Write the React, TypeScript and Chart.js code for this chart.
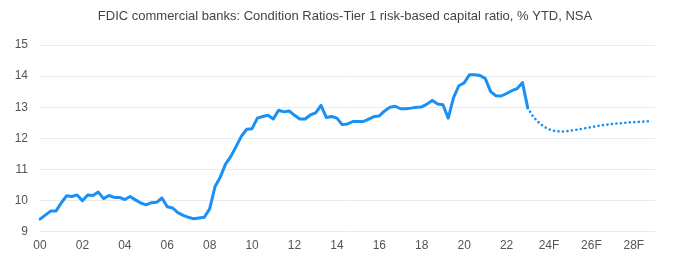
import React, { useEffect, useRef } from "react";
import { Chart, registerables } from "chart.js";

Chart.register(...registerables);

const TITLE = "FDIC commercial banks: Condition Ratios-Tier 1 risk-based capital ratio, % YTD, NSA";

// Quarterly categories 2000Q1 .. 2029Q1
const START_YEAR = 2000;
const END_YEAR = 2029;
const quarterLabels: string[] = [];
for (let y = START_YEAR; y <= END_YEAR; y++) {
  for (let q = 1; q <= 4; q++) {
    if (y === END_YEAR && q > 1) break;
    quarterLabels.push(`${y}Q${q}`);
  }
}

// Tick labels shown every 2 years (every 8 quarters)
const tickLabels = ["00", "02", "04", "06", "08", "10", "12", "14", "16", "18", "20", "22", "24F", "26F", "28F"];

// Actual values 2000Q1 .. 2023Q1
const actual = [
  9.40, 9.53, 9.66, 9.66,
  9.92, 10.15, 10.13, 10.18,
  9.99, 10.18, 10.16, 10.27,
  10.06, 10.16, 10.10, 10.10,
  10.03, 10.13, 10.02, 9.92,
  9.86, 9.93, 9.94, 10.08,
  9.80, 9.76, 9.61, 9.52,
  9.46, 9.41, 9.44, 9.46,
  9.73, 10.44, 10.75, 11.17,
  11.42, 11.74, 12.07, 12.29,
  12.31, 12.65, 12.70, 12.74,
  12.62, 12.90, 12.85, 12.88,
  12.74, 12.62, 12.62, 12.75,
  12.82, 13.06, 12.67, 12.70,
  12.65, 12.44, 12.46, 12.54,
  12.54, 12.54, 12.62, 12.70,
  12.72, 12.88, 13.00, 13.03,
  12.95, 12.95, 12.97, 13.00,
  13.01, 13.10, 13.22, 13.10,
  13.08, 12.65, 13.31, 13.69,
  13.78, 14.04, 14.04, 14.02,
  13.92, 13.50, 13.37, 13.36,
  13.44, 13.53, 13.60, 13.79,
  12.98,
];

// Forecast values 2023Q2 .. 2028Q4
const forecast = [
  12.70, 12.52, 12.38,
  12.29, 12.24, 12.22, 12.22,
  12.24, 12.27, 12.30, 12.33,
  12.36, 12.39, 12.42, 12.44,
  12.46, 12.48, 12.49, 12.51,
  12.52, 12.53, 12.54, 12.55,
];

const yTicks = [9, 10, 11, 12, 13, 14, 15];

const LINE_COLOR = "#1a90f5";
const FONT = "'Liberation Sans', Arial, sans-serif";

const titlePlugin = {
  id: "offsetTitle",
  afterDraw(chart: any) {
    const ctx = chart.ctx;
    ctx.save();
    ctx.font = `13px ${FONT}`;
    ctx.fillStyle = "#444";
    ctx.textAlign = "center";
    ctx.textBaseline = "middle";
    ctx.fillText(TITLE, 345, 16);
    ctx.restore();
  },
};

export default function App() {
  const canvasRef = useRef<HTMLCanvasElement | null>(null);

  useEffect(() => {
    if (!canvasRef.current) return;
    const n = quarterLabels.length;
    const actualData: (number | null)[] = [...actual];
    while (actualData.length < n) actualData.push(null);
    const forecastData: (number | null)[] = [];
    for (let i = 0; i < actual.length - 1; i++) forecastData.push(null);
    forecastData.push(actual[actual.length - 1]);
    for (const v of forecast) forecastData.push(v);
    while (forecastData.length < n) forecastData.push(null);

    const chart = new Chart(canvasRef.current, {
      type: "line",
      data: {
        labels: quarterLabels,
        datasets: [
          {
            data: actualData,
            borderColor: LINE_COLOR,
            borderWidth: 3,
            pointRadius: 0,
            tension: 0,
            borderJoinStyle: "round",
            borderCapStyle: "round",
          },
          {
            data: forecastData,
            borderColor: LINE_COLOR,
            borderWidth: 2.6,
            pointRadius: 0,
            tension: 0,
            borderDash: [0.1, 4.4],
            borderCapStyle: "round",
          },
        ],
      },
      plugins: [titlePlugin],
      options: {
        animation: false,
        responsive: true,
        maintainAspectRatio: false,
        layout: { padding: { left: 0, right: 20, top: 45, bottom: 3 } },
        plugins: {
          legend: { display: false },
          tooltip: { enabled: false },
          title: { display: false },
        },
        scales: {
          x: {
            type: "category",
            offset: false,
            grid: { display: false, drawTicks: false },
            border: { display: false },
            ticks: {
              autoSkip: false,
              maxRotation: 0,
              minRotation: 0,
              padding: 6.5,
              color: "#555",
              font: { family: FONT, size: 12 },
              callback: (_v: any, i: number) => (i % 8 === 0 && tickLabels[i / 8] !== undefined ? tickLabels[i / 8] : null),
            },
          },
          y: {
            min: yTicks[0],
            max: yTicks[yTicks.length - 1],
            afterFit: (scale: any) => {
              scale.width = 40;
            },
            grid: { color: "#ebebeb", drawTicks: false, lineWidth: 1 },
            border: { display: false },
            ticks: {
              stepSize: 1,
              padding: 12,
              color: "#555",
              font: { family: FONT, size: 12 },
            },
          },
        },
      },
    });
    return () => chart.destroy();
  }, []);

  return (
    <div style={{ position: "fixed", left: 0, top: 0, width: 675, height: 262, background: "#fff" }}>
      <canvas ref={canvasRef} />
    </div>
  );
}
